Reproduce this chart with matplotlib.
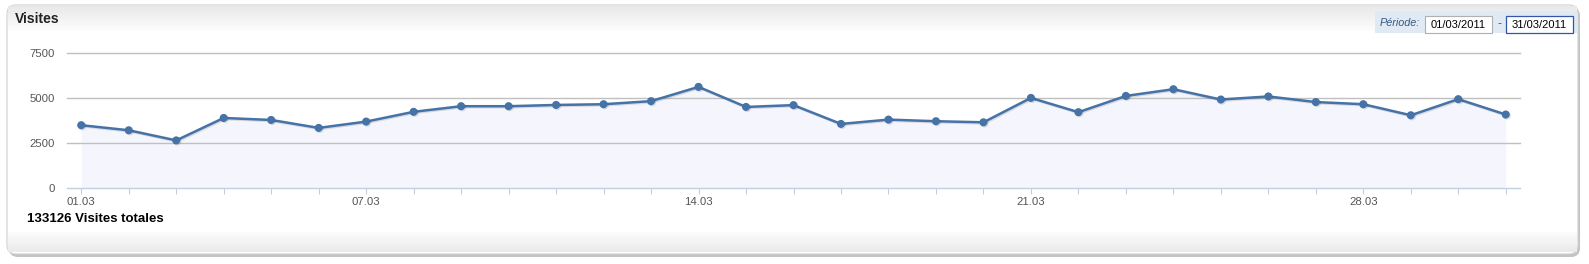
import matplotlib
matplotlib.use('Agg')
import matplotlib.pyplot as plt
import matplotlib.patheffects as pe
from matplotlib.patches import FancyBboxPatch, Rectangle
import numpy as np

plt.rcParams['font.family'] = ['Liberation Sans', 'DejaVu Sans']

# données : visites par jour, mars 2011
days = ['%02d.03' % d for d in range(1, 32)]
visits = [3490, 3210, 2650, 3890, 3780, 3340, 3690, 4230, 4540, 4540, 4610,
          4650, 4820, 5610, 4500, 4600, 3560, 3800, 3710, 3650, 5000, 4210,
          5110, 5480, 4910, 5080, 4770, 4650, 4040, 4930, 4080]
label_days = ['01.03', '07.03', '14.03', '21.03', '28.03']
y_ticks = [0, 2500, 5000, 7500]
total_visits = 133126
date_from = '01/03/2011'
date_to = '31/03/2011'

W, H = 1589, 264
fig = plt.figure(figsize=(W / 100, H / 100), dpi=100)
fig.patch.set_facecolor('white')

# fond du panneau, en pixels
bg = fig.add_axes([0, 0, 1, 1], zorder=0)
bg.set_xlim(0, W)
bg.set_ylim(H, 0)
bg.axis('off')

# ombre + cadre arrondi
bg.add_patch(FancyBboxPatch((9, 7), 1571, 250, boxstyle='round,pad=0,rounding_size=9',
                            facecolor='#c4c4c4', edgecolor='none'))
bg.add_patch(FancyBboxPatch((7, 5), 1571, 249, boxstyle='round,pad=0,rounding_size=9',
                            facecolor='white', edgecolor='#d0d0d0', linewidth=0.8))

# dégradés haut et bas
grad_top = np.linspace(0.91, 0.99, 50).reshape(-1, 1)
bg.imshow(grad_top, cmap='gray', vmin=0, vmax=1, extent=(8, 1577, 31, 6),
          aspect='auto', zorder=1, interpolation='bilinear')
grad_bot = np.linspace(0.985, 0.915, 50).reshape(-1, 1)
bg.imshow(grad_bot, cmap='gray', vmin=0, vmax=1, extent=(8, 1577, 252, 232),
          aspect='auto', zorder=1, interpolation='bilinear')
bg.set_xlim(0, W)
bg.set_ylim(H, 0)

bg.text(15, 19, 'Visites', fontsize=10, fontweight='bold', color='#222222',
        va='center', ha='left', zorder=3)

# bloc période
bg.add_patch(Rectangle((1375, 11), 202, 22, facecolor='#e0eaf4', edgecolor='none', zorder=2))
bg.text(1380, 23, 'Période:', fontsize=7.8, style='italic', color='#3a5a80',
        va='center', ha='left', zorder=3)
bg.add_patch(Rectangle((1425, 16), 67, 17, facecolor='white', edgecolor='#b0b0b0',
                       linewidth=0.8, zorder=3))
bg.text(1458.5, 24.5, date_from, fontsize=8, color='black', va='center', ha='center', zorder=4)
bg.text(1499, 24, '-', fontsize=8.5, color='#3a5a80', va='center', ha='center', zorder=3)
bg.add_patch(Rectangle((1506, 16), 67, 17, facecolor='white', edgecolor='#3355aa',
                       linewidth=0.9, zorder=3))
bg.text(1539.5, 24.5, date_to, fontsize=8, color='black', va='center', ha='center', zorder=4)

bg.text(27, 218.5, '%d Visites totales' % total_visits, fontsize=9.5, fontweight='bold',
        color='black', va='center', ha='left', zorder=3)

# graphique
ax = fig.add_axes([67 / W, 1 - 188.3 / H, (1520 - 67) / W, (188.3 - 52.7) / H], zorder=2)
ax.patch.set_alpha(0)
x = np.arange(len(days))
ax.fill_between(x, visits, 0, color='#f5f6fd', zorder=1, linewidth=0)
for t in y_ticks[1:]:
    ax.axhline(t, color='#c0c0c0', linewidth=1, zorder=2, clip_on=False)
ax.plot(x, visits, color='#4572a7', linewidth=1.8, marker='o', markersize=4.8,
        zorder=4, clip_on=False,
        path_effects=[pe.SimpleLineShadow(offset=(0.8, -0.8), shadow_color='black', alpha=0.12),
                      pe.Normal()])

ax.set_xlim(-0.3, len(days) - 0.7)
ax.set_ylim(0, 7500)
for s in ['top', 'right', 'left']:
    ax.spines[s].set_visible(False)
ax.spines['bottom'].set_color('#c0d0e0')
ax.spines['bottom'].set_linewidth(1)

ax.set_xticks(x)
ax.set_xticklabels([d if d in label_days else '' for d in days])
ax.tick_params(axis='x', direction='out', length=4, width=0.8, color='#c0d0e0',
               labelsize=8.2, labelcolor='#555555', pad=2)
ax.set_yticks(y_ticks)
ax.set_yticklabels([str(t) for t in y_ticks])
ax.tick_params(axis='y', length=0, labelsize=8.2, labelcolor='#555555', pad=9)

fig.savefig('out.png', dpi=100)
print('over')
